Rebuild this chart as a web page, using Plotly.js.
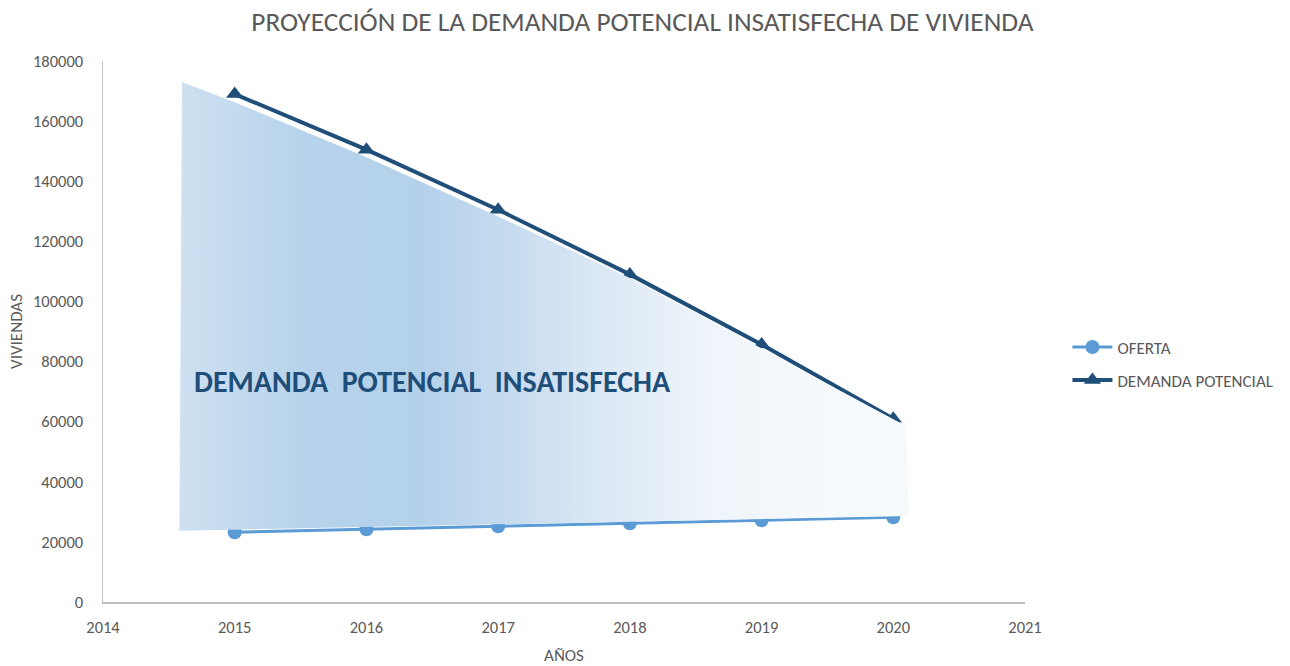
<!DOCTYPE html>
<html>
<head>
<meta charset="utf-8">
<script src="https://cdn.plot.ly/plotly-3.0.1.min.js"></script>
<style>html,body{margin:0;padding:0;background:#fff;}#chart{width:1290px;height:666px;}</style>
</head>
<body>
<div id="chart"></div>
<script>
const years = [2015, 2016, 2017, 2018, 2019, 2020];
const oferta = [23200, 24200, 25200, 26200, 27200, 28200];
const demanda = [169000, 150500, 130500, 109000, 85700, 61000];

// shaded "unsatisfied demand" area (polygon vertices, drawn on top like the original shape)
const areaX = [2014.6, 2015, 2016, 2017, 2018, 2019, 2020.1, 2020.12, 2014.58, 2014.6];
const areaY = [173000, 166300, 148000, 128300, 107800, 84300, 58500, 28600, 23700, 173000];

const titleText = 'PROYECCIÓN DE LA DEMANDA POTENCIAL INSATISFECHA DE VIVIENDA';
const areaLabel = 'DEMANDA  POTENCIAL  INSATISFECHA';
const xTitle = 'AÑOS';
const yTitle = 'VIVIENDAS';

const font = 'Carlito, "Open Sans", "Liberation Sans", sans-serif';

const traces = [
  {
    x: years, y: oferta, name: 'OFERTA', type: 'scatter', mode: 'lines+markers',
    legendgroup: 'a',
    line: {color: '#5b9bd5', width: 3},
    marker: {symbol: 'circle', size: 14, color: '#5b9bd5'}
  },
  {
    x: years, y: demanda, name: 'DEMANDA POTENCIAL', type: 'scatter', mode: 'lines+markers',
    legendgroup: 'b',
    line: {color: '#1f4e79', width: 4},
    marker: {symbol: 'triangle-up', size: 15, color: '#1f4e79'}
  },
  {
    x: areaX, y: areaY, type: 'scatter', mode: 'lines',
    fill: 'toself', line: {width: 0, color: 'rgba(0,0,0,0)'},
    fillgradient: {
      type: 'horizontal',
      colorscale: [
        [0, '#cfe0f1'], [0.17, '#b6d3eb'], [0.33, '#b4d1ea'],
        [0.45, '#c6dbef'], [0.58, '#dce8f5'], [0.72, '#eef4fa'],
        [0.85, '#f5f8fc'], [1, '#f7fafd']
      ]
    },
    showlegend: false, hoverinfo: 'skip'
  }
];

const layout = {
  width: 1290, height: 666,
  margin: {l: 103, r: 262, t: 61, b: 64},
  paper_bgcolor: '#ffffff', plot_bgcolor: '#ffffff',
  font: {family: font, color: '#595959', size: 16},
  title: {
    text: titleText, x: 0.498, xref: 'container', xanchor: 'center',
    y: 0.968, yref: 'container', yanchor: 'middle',
    font: {family: font, size: 27.3, color: '#595959'}
  },
  xaxis: {
    range: [2014, 2021], dtick: 1, tick0: 2014,
    showgrid: false, zeroline: false,
    showline: true, linecolor: '#bfbfbf', linewidth: 1.5,
    ticks: '', ticklabelstandoff: 10, tickfont: {size: 16.5, color: '#595959'},
    title: {text: xTitle, font: {size: 17, color: '#595959'}, standoff: 14}
  },
  yaxis: {
    range: [0, 180000], dtick: 20000, tickformat: 'd',
    showgrid: false, zeroline: false,
    showline: true, linecolor: '#bfbfbf', linewidth: 1.5,
    ticks: '', ticklabelstandoff: 15, tickfont: {size: 16.5, color: '#595959'},
    title: {text: yTitle, font: {size: 17, color: '#595959'}, standoff: 6}
  },
  legend: {
    x: 1.046, xanchor: 'left', y: 0.44, yanchor: 'middle',
    font: {size: 17, color: '#595959'}, traceorder: 'grouped', tracegroupgap: 8,
    itemwidth: 40
  },
  annotations: [
    {
      x: 2016.5, y: 73300, xref: 'x', yref: 'y', showarrow: false,
      text: '<b>' + areaLabel + '</b>',
      font: {family: font, size: 30, color: '#1f4e79'}
    }
  ]
};

Plotly.newPlot('chart', traces, layout, {displayModeBar: false, staticPlot: true});
</script>
</body>
</html>
